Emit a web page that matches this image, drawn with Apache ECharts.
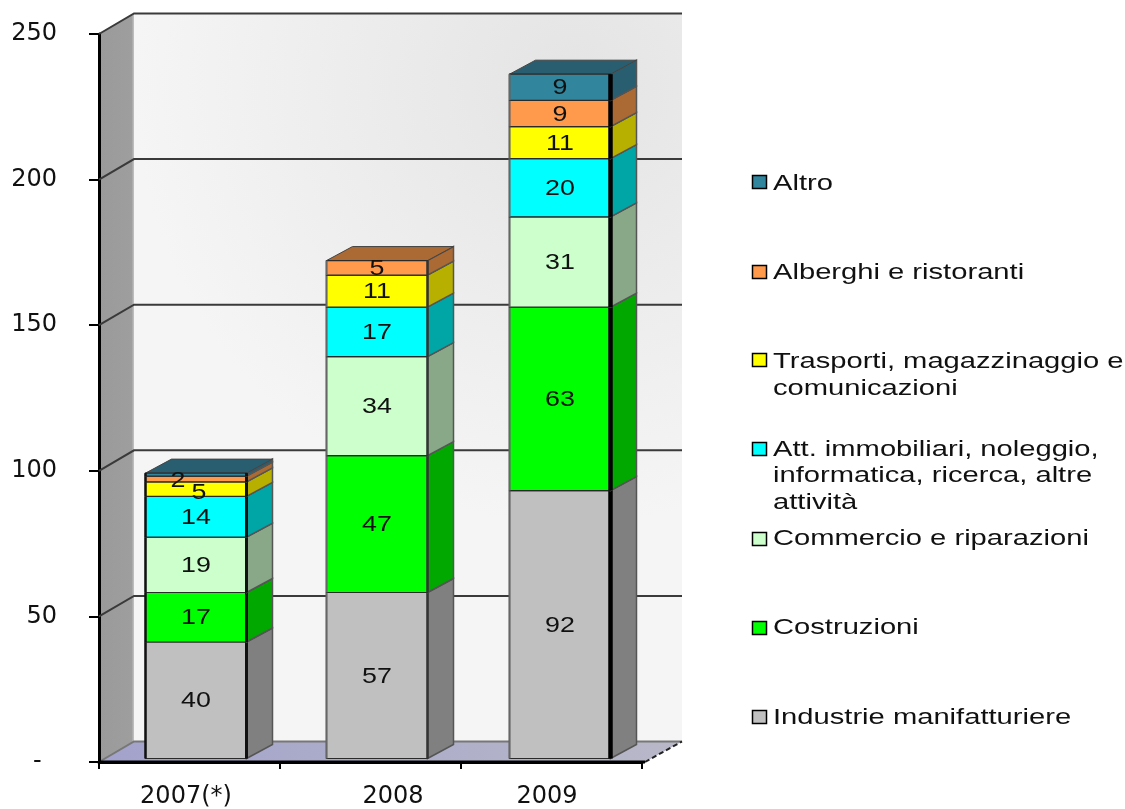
<!DOCTYPE html>
<html>
<head>
<meta charset="utf-8">
<style>
  html, body { margin: 0; padding: 0; background: #fff; }
  #chart { width: 1125px; height: 809px; }
</style>
<script src="https://cdn.jsdelivr.net/npm/echarts@6/dist/echarts.min.js"></script>
</head>
<body>
<div id="chart"></div>
<script>
const categories = ["2007(*)", "2008", "2009"];
const yTicks = [50, 100, 150, 200, 250];

// bottom to top, same order as the stack
const seriesNames = [
  "Industrie manifatturiere",
  "Costruzioni",
  "Commercio e riparazioni",
  "Att. immobiliari, noleggio, informatica, ricerca, altre attività",
  "Trasporti, magazzinaggio e comunicazioni",
  "Alberghi e ristoranti",
  "Altro"
];
const industrie = [40, 57, 92];
const costruzioni = [17, 47, 63];
const commercio = [19, 34, 31];
const immobiliari = [14, 17, 20];
const trasporti = [5, 11, 11];
const alberghi = [2, 5, 9];
const altro = [1, 0, 9];
const seriesValues = [industrie, costruzioni, commercio, immobiliari, trasporti, alberghi, altro];

// 2007 "Altro" is a sliver with no printed label
const hiddenLabels = { "6-0": true };
// labels that sit off centre in the original: [dx, dy]
const labelNudge = { "5-0": [-18, 1], "4-0": [3, 3] };

const frontColors = ["#c0c0c0", "#00ff00", "#ccffcc", "#00ffff", "#ffff00", "#ff9a4c", "#31859c"];
const sideColors = ["#808080", "#00a800", "#88a888", "#00a6a6", "#b8b000", "#ab6a34", "#285e70"];

const legendEntries = [
  { color: frontColors[6], markerY: 182, lines: [["Altro", 183]] },
  { color: frontColors[5], markerY: 272, lines: [["Alberghi e ristoranti", 272]] },
  { color: frontColors[4], markerY: 360, lines: [["Trasporti, magazzinaggio e", 361], ["comunicazioni", 388]] },
  { color: frontColors[3], markerY: 449, lines: [["Att. immobiliari, noleggio,", 449], ["informatica, ricerca, altre", 475], ["attività", 502]] },
  { color: frontColors[2], markerY: 539, lines: [["Commercio e riparazioni", 538]] },
  { color: frontColors[1], markerY: 628, lines: [["Costruzioni", 627]] },
  { color: frontColors[0], markerY: 717, lines: [["Industrie manifatturiere", 717]] }
];

const wallDX = 35;
const wallDY = -20.5;
const floorExtra = 3;
const barWidth = 101;
const barDX = 26;
const barDY = -14;
const barShiftX = [6.5, 6.5, 8.5];
const barShiftY = -3.5;
const leftEdges = [["#111", 2.5], ["#666", 2], ["#666", 2]];
const rightEdges = [["#111", 3], ["#333", 2.5], ["#000", 4.5]];
const textFont = "Liberation Sans";
const axisFont = "DejaVu Sans";

function renderWalls(params, api) {
  const cs = params.coordSys;
  const x0 = cs.x;
  const x1 = cs.x + cs.width + floorExtra;
  const yTop = api.coord([0, api.value(1)])[1];
  const yBase = api.coord([0, api.value(0)])[1];
  const backX0 = x0 + wallDX;
  const backX1 = x1 + wallDX + 2;
  const backYTop = yTop + wallDY;
  const backYBase = yBase + wallDY;
  return {
    type: "group",
    children: [
      {
        type: "rect",
        shape: { x: backX0, y: backYTop, width: backX1 - backX0, height: backYBase - backYTop },
        style: {
          fill: new echarts.graphic.RadialGradient(0.8, 0.1, 0.8, [
            { offset: 0, color: "#e4e4e4" },
            { offset: 1, color: "#f5f5f5" }
          ])
        }
      },
      {
        type: "polygon",
        shape: { points: [[x0, yTop], [backX0, backYTop], [backX0, backYBase], [x0, yBase]] },
        style: {
          fill: new echarts.graphic.LinearGradient(0, 0, 1, 0, [
            { offset: 0, color: "#9a9a9a" },
            { offset: 0.93, color: "#9e9e9e" },
            { offset: 1, color: "#c4c4c4" }
          ])
        }
      },
      {
        type: "polygon",
        shape: { points: [[x0, yBase], [x1, yBase], [backX1, backYBase], [backX0, backYBase]] },
        style: {
          fill: new echarts.graphic.LinearGradient(0, 0, 1, 0, [
            { offset: 0, color: "#a2a2cc" },
            { offset: 1, color: "#b8b8c8" }
          ])
        }
      },
      {
        type: "polyline",
        shape: { points: [[x0, yBase], [backX0, backYBase], [backX1, backYBase]] },
        style: { fill: "none", stroke: "#777", lineWidth: 2 }
      },
      {
        type: "line",
        shape: { x1: x1, y1: yBase, x2: backX1, y2: backYBase },
        style: { stroke: "#222", lineWidth: 2, lineDash: [5, 3] }
      },
      {
        type: "line",
        shape: { x1: x0, y1: yBase, x2: x1, y2: yBase },
        style: { stroke: "#000", lineWidth: 3 }
      }
    ]
  };
}

function renderGridLine(params, api) {
  const cs = params.coordSys;
  const y = api.coord([0, api.value(0)])[1];
  const x0 = cs.x;
  const backX0 = x0 + wallDX;
  const backX1 = x0 + cs.width + floorExtra + wallDX + 2;
  return {
    type: "polyline",
    shape: { points: [[x0, y], [backX0, y + wallDY], [backX1, y + wallDY]] },
    style: { fill: "none", stroke: "#3a3a3a", lineWidth: 2 }
  };
}

function makeRenderBar(seriesIndex) {
  return function (params, api) {
    const cat = api.value(0);
    const value = api.value(3);
    if (!value) return { type: "group", children: [] };

    const base = api.coord([cat, api.value(1)]);
    const top = api.coord([cat, api.value(2)]);
    const xL = base[0] + barShiftX[cat] - barWidth / 2;
    const xR = xL + barWidth;
    const yB = base[1] + barShiftY;
    const yT = top[1] + barShiftY;
    const children = [
      {
        type: "polygon",
        shape: { points: [[xR, yB], [xR + barDX, yB + barDY], [xR + barDX, yT + barDY], [xR, yT]] },
        style: { fill: sideColors[seriesIndex], stroke: "#555", lineWidth: 1.5 }
      },
      {
        type: "polygon",
        shape: { points: [[xL, yT], [xR, yT], [xR + barDX, yT + barDY], [xL + barDX, yT + barDY]] },
        style: { fill: sideColors[seriesIndex], stroke: "#444", lineWidth: 1 }
      },
      {
        type: "rect",
        shape: { x: xL, y: yT, width: barWidth, height: yB - yT },
        style: { fill: frontColors[seriesIndex], stroke: "#2a2a2a", lineWidth: 1.2 }
      },
      {
        type: "line",
        shape: { x1: xL, y1: yT, x2: xL, y2: yB },
        style: { stroke: leftEdges[cat][0], lineWidth: leftEdges[cat][1] }
      },
      {
        type: "line",
        shape: { x1: xR, y1: yT, x2: xR, y2: yB },
        style: { stroke: rightEdges[cat][0], lineWidth: rightEdges[cat][1] }
      }
    ];

    const key = seriesIndex + "-" + cat;
    if (!hiddenLabels[key]) {
      const nudge = labelNudge[key] || [0, 0];
      children.push({
        type: "text",
        z2: 20,
        x: (xL + xR) / 2 + nudge[0],
        y: (yT + yB) / 2 + nudge[1] + 1,
        scaleX: 1.22,
        style: {
          text: String(value),
          fill: "#111",
          font: "22px '" + textFont + "'",
          align: "center",
          verticalAlign: "middle"
        }
      });
    }
    return { type: "group", children: children };
  };
}

const barSeries = seriesNames.map(function (name, s) {
  const data = categories.map(function (_, c) {
    let base = 0;
    for (let k = 0; k < s; k++) base += seriesValues[k][c];
    return [c, base, base + seriesValues[s][c], seriesValues[s][c]];
  });
  return {
    type: "custom",
    name: name,
    coordinateSystem: "cartesian2d",
    renderItem: makeRenderBar(s),
    encode: { x: 0, y: 2 },
    z: 2,
    data: data,
    silent: true
  };
});

const legendGraphics = [];
legendEntries.forEach(function (entry) {
  legendGraphics.push({
    type: "rect",
    shape: { x: 752.5, y: entry.markerY - 6.5, width: 14, height: 13 },
    style: { fill: entry.color, stroke: "#000", lineWidth: 1.5 }
  });
  entry.lines.forEach(function (line) {
    legendGraphics.push({
      type: "text",
      x: 773,
      y: line[1] + 1,
      scaleX: 1.325,
      style: {
        text: line[0],
        fill: "#111",
        font: "22px '" + textFont + "'",
        align: "left",
        verticalAlign: "middle"
      }
    });
  });
});

// per-label padding moves the year labels to where the original has them
const xLabelStyle = function (padding) {
  return { padding: padding, fontFamily: axisFont, fontSize: 24, color: "#111" };
};

const chart = echarts.init(document.getElementById("chart"));
chart.setOption({
  animation: false,
  backgroundColor: "#fff",
  grid: { left: 99, top: 34, width: 543, height: 728, outerBoundsMode: "none" },
  xAxis: {
    type: "category",
    data: categories,
    axisLine: { lineStyle: { color: "#000", width: 3 } },
    axisTick: { show: true, length: 7, interval: 0, lineStyle: { color: "#000", width: 2 } },
    axisLabel: {
      interval: 0,
      hideOverlap: false,
      margin: 23,
      color: "#111",
      fontFamily: axisFont,
      fontSize: 24,
      formatter: function (v, i) {
        return "{c" + i + "|" + v + "}";
      },
      rich: {
        c0: xLabelStyle([0, 7, 0, 0]),
        c1: xLabelStyle([0, 0, 0, 45]),
        c2: xLabelStyle([0, 9, 0, 0])
      }
    }
  },
  yAxis: {
    type: "value",
    min: 0,
    max: 250,
    interval: 50,
    splitLine: { show: false },
    axisLine: { show: true, lineStyle: { color: "#000", width: 3 } },
    axisTick: { show: true, length: 10, lineStyle: { color: "#000", width: 2 } },
    axisLabel: {
      margin: 42,
      color: "#111",
      fontFamily: axisFont,
      fontSize: 24,
      formatter: function (v) {
        return v === 0 ? "-  " : String(v);
      }
    }
  },
  graphic: legendGraphics,
  series: [
    {
      type: "custom",
      name: "walls",
      coordinateSystem: "cartesian2d",
      renderItem: renderWalls,
      encode: { y: 1 },
      z: -1,
      silent: true,
      data: [[0, 250]]
    },
    {
      type: "custom",
      name: "gridlines",
      coordinateSystem: "cartesian2d",
      renderItem: renderGridLine,
      encode: { y: 0 },
      z: 1,
      silent: true,
      data: yTicks.map(function (v) { return [v]; })
    }
  ].concat(barSeries)
});
</script>
</body>
</html>
